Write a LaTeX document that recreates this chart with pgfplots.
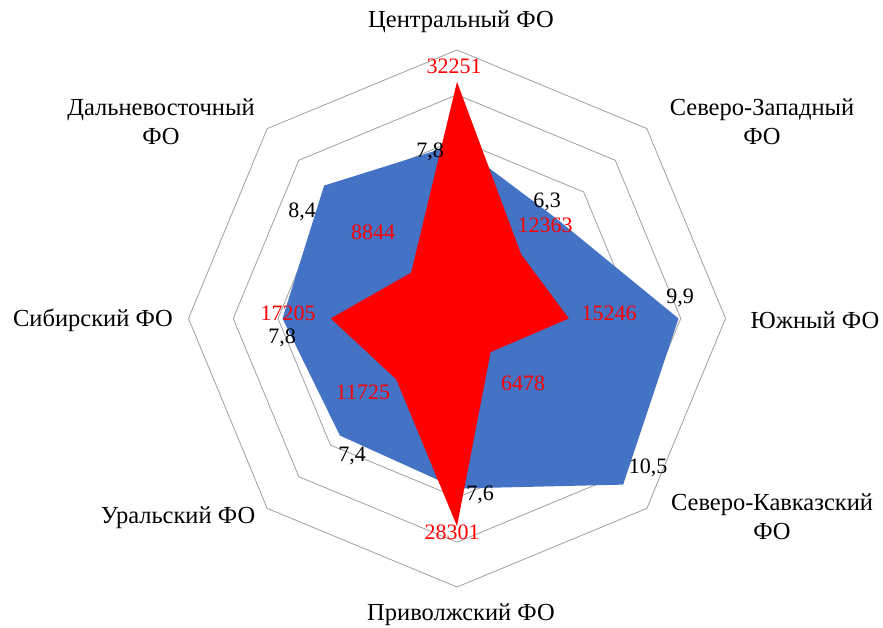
\documentclass[border=0pt]{standalone}
\usepackage{fontspec}
\setmainfont{Liberation Serif}
\usepackage{pgfplots}
\usepackage{pgfplotstable}
\pgfplotsset{compat=1.18}
\definecolor{sblue}{HTML}{4472C4}
\definecolor{ring}{HTML}{A0A0A0}

% share (blue, 0..12)
\pgfplotstableread{
ang v
90 7.8
45 6.3
0 9.9
-45 10.5
-90 7.6
-135 7.4
180 7.8
135 8.4
90 7.8
}\shr
% count (red)
\pgfplotstableread{
ang v
90 32251
45 12363
0 15246
-45 6478
-90 28301
-135 11725
180 17205
135 8844
90 32251
}\cnt

\begin{document}
\begin{tikzpicture}
\begin{axis}[hide axis, x=22.375pt, y=22.375pt,
  xmin=-20.425, xmax=19.039, ymin=-13.788, ymax=14.235,
  clip=false, at={(0,0)}, anchor=south west]
\pgfplotsinvokeforeach{2,4,6,8,10,12}{
  \addplot[ring, line width=0.8pt, data cs=polar] coordinates {(90,#1) (45,#1) (0,#1) (-45,#1) (-90,#1) (-135,#1) (180,#1) (135,#1) (90,#1)};
}
\addplot[fill=sblue, draw=none, data cs=polar] table[x=ang, y=v] {\shr};
\addplot[fill=red, draw=none, data cs=polar] table[x=ang, y expr=\thisrow{v}/3050] {\cnt};
\end{axis}
\begin{scope}[x=1pt, y=-1pt, shift={(0,627pt)}, font=\fontsize{24.5}{29}\selectfont]
\node at (461,22) {Центральный ФО};
\node[align=center] at (762,122) {Северо-Западный\\ФО};
\node at (815,320) {Южный ФО};
\node[align=center] at (772,517) {Северо-Кавказский\\ФО};
\node at (461,615) {Приволжский ФО};
\node at (178,518) {Уральский ФО};
\node at (93,320) {Сибирский ФО};
\node[align=center] at (161,122) {Дальневосточный\\ФО};
\begin{scope}[font=\fontsize{22}{26}\selectfont]
% share labels
\node at (430,152) {7,8};
\node at (547,202) {6,3};
\node at (680,298) {9,9};
\node at (648,468) {10,5};
\node at (480,495) {7,6};
\node at (352,456) {7,4};
\node at (282,338) {7,8};
\node at (302,212) {8,4};
% count labels
\begin{scope}[red]
\node at (454,66) {32251};
\node at (545,225) {12363};
\node at (609,313) {15246};
\node at (523,383) {6478};
\node at (452,532) {28301};
\node at (363,392) {11725};
\node at (288,313) {17205};
\node at (373,232) {8844};
\end{scope}
\end{scope}
\end{scope}
\pgfresetboundingbox
\path (0,0) rectangle (883pt,627pt);
\end{tikzpicture}
\end{document}
